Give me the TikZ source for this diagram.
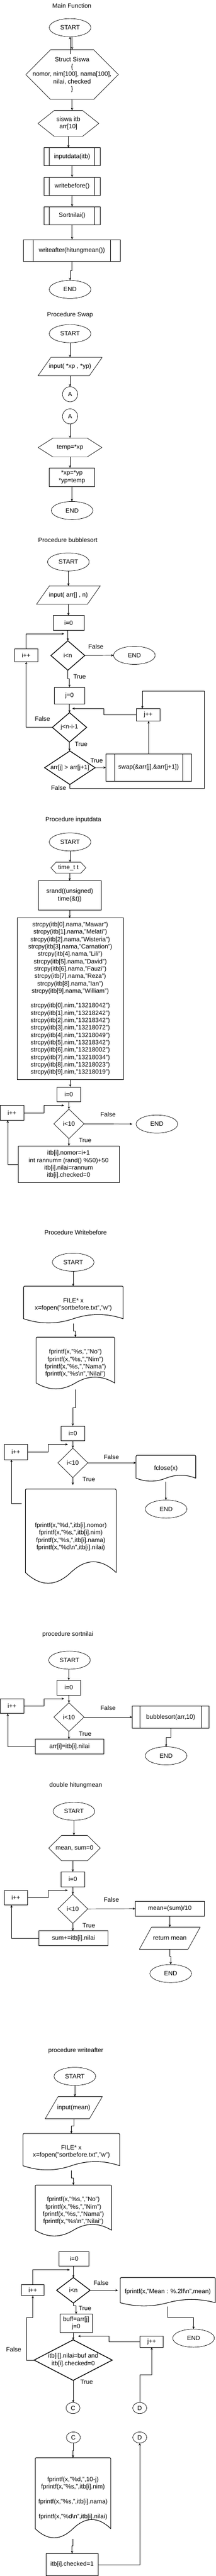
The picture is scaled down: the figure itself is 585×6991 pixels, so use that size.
\documentclass[tikz,border=0pt]{standalone}
\usepackage{fontspec}
\setmainfont{Liberation Sans}
\usetikzlibrary{arrows.meta,shapes.geometric,calc}

\begin{document}
\begin{tikzpicture}[x=1pt,y=-1pt,
  every node/.style={font=\fontsize{16.8}{20}\selectfont, outer sep=0pt, inner sep=2pt, align=center},
  flowLine/.style={draw=drawColor, line width=1pt, line join=round},
  flowArrow/.style={flowLine, -{Stealth[length=7pt,width=6pt]}},
  labelText/.style={inner sep=0pt},
  termNode/.style={ellipse, draw=drawColor, line width=1pt, minimum width=113, minimum height=49},
  procBox/.style={rectangle, draw=drawColor, line width=1pt},
  subProc/.style={procBox, path picture={\draw[draw=drawColor, line width=1pt]
      ([xshift=#1]path picture bounding box.north west) -- ([xshift=#1]path picture bounding box.south west)
      ([xshift=-#1]path picture bounding box.north east) -- ([xshift=-#1]path picture bounding box.south east);}},
  connCircle/.style={circle, draw=drawColor, line width=1pt, minimum size=41, inner sep=1pt},
  connOval/.style={ellipse, draw=drawColor, line width=1pt, minimum width=38, minimum height=30, inner sep=1pt},
  prepHex/.style={rectangle, append after command={\pgfextra{\draw[flowLine]
      (\tikzlastnode.west) -- ([xshift=#1]\tikzlastnode.north west) -- ([xshift=-#1]\tikzlastnode.north east)
      -- (\tikzlastnode.east) -- ([xshift=-#1]\tikzlastnode.south east) -- ([xshift=#1]\tikzlastnode.south west) -- cycle;}}},
  ioPara/.style={rectangle, append after command={\pgfextra{\draw[flowLine]
      ([xshift=#1]\tikzlastnode.north west) -- (\tikzlastnode.north east)
      -- ([xshift=-#1]\tikzlastnode.south east) -- (\tikzlastnode.south west) -- cycle;}}},
  decision/.style={rectangle, append after command={\pgfextra{\draw[draw=drawColor, line width=#1, line join=miter]
      (\tikzlastnode.west) -- (\tikzlastnode.north) -- (\tikzlastnode.east) -- (\tikzlastnode.south) -- cycle;}}},
  docShape/.style={rectangle, append after command={\pgfextra{\draw[draw=drawColor, line width=1.5pt, line join=round]
      let \p1=(\tikzlastnode.north west), \p2=(\tikzlastnode.south east),
      \n1={0.25*(\y1-\y2)}, \n2={\x2-\x1} in
      (\x1,{\y2+0.5*\n1}) [rounded corners=3pt]-- (\x1,\y1) -- (\x2,\y1) [sharp corners]-- (\x2,{\y2+0.5*\n1})
      .. controls ({\x2-\n2/6},{\y2+1.1*\n1}) and ({\x1+0.5*\n2+\n2/6},{\y2+1.1*\n1}) .. ({\x1+0.5*\n2},{\y2+0.5*\n1})
      .. controls ({\x1+0.5*\n2-\n2/6},{\y2-0.1*\n1}) and ({\x1+\n2/6},{\y2-0.1*\n1}) .. (\x1,{\y2+0.5*\n1}) -- cycle;}}}
]
\definecolor{drawColor}{RGB}{0,0,0}
\definecolor{fillColor}{RGB}{255,255,255}
\path[use as bounding box, fill=fillColor] (0,0) rectangle (585,6991);

\node[labelText] (titleMain) at (195,15) {Main Function};
\node[termNode] (startMain) at (190,75) {START};
\node[prepHex=67pt, minimum width=251, minimum height=135] (structSiswa) at (195.5,202.5) {Struct Siswa\\\{\\nomor, nim[100], nama[100],\\nilai, checked\\\}};
\coordinate (structIn) at (190,147);
\node[prepHex=44pt, minimum width=165, minimum height=70] (siswaItb) at (185.5,335) {siswa itb\\arr[10]};
\node[subProc=15pt, minimum width=153, minimum height=49] (inputCall) at (195.5,425.5) {inputdata(itb)};
\node[subProc=15pt, minimum width=153, minimum height=49] (beforeCall) at (195.5,505.5) {writebefore()};
\node[subProc=15pt, minimum width=153, minimum height=49] (sortCall) at (195.5,585.5) {Sortnilai()};
\node[subProc=26pt, minimum width=262, minimum height=60] (afterCall) at (195,680) {writeafter(hitungmean())};
\node[termNode] (endMain) at (190,785.5) {END};

\path[flowArrow] (structIn) -- (startMain.south);
\path[flowArrow] (startMain.south -| structSiswa.north) -- (structSiswa.north);
\path[flowArrow] (structSiswa.south) -- (structSiswa.south |- siswaItb.north);
\path[flowArrow] (siswaItb.south) -- (siswaItb.south |- inputCall.north);
\path[flowArrow] (inputCall.south) -- (beforeCall.north);
\path[flowArrow] (beforeCall.south) -- (sortCall.north);
\path[flowArrow] (sortCall.south) -- (sortCall.south |- afterCall.north);
\path[flowArrow] (afterCall.south) -- ++(0,25) -| (endMain.north);

\node[labelText] (titleSwap) at (190,855) {Procedure Swap};
\node[termNode] (startSwap) at (190,905.5) {START};
\node[ioPara=35pt, minimum width=174, minimum height=50] (inSwap) at (190,995) {input( *xp , *yp)};
\node[connCircle] (conA1) at (190,1070) {A};
\node[connCircle] (conA2) at (190,1130) {A};
\node[prepHex=40pt, minimum width=173, minimum height=51] (tempHex) at (190,1214.5) {temp=*xp};
\node[procBox, minimum width=124, minimum height=50] (swapBox) at (195,1295) {*xp=*yp\\{}*yp=temp};
\node[termNode] (endSwap) at (195.5,1385.5) {END};

\path[flowArrow] (startSwap.south) -- (inSwap.north);
\path[flowArrow] (inSwap.south) -- (conA1.north);
\path[flowArrow] (conA2.south) -- (tempHex.north);
\path[flowArrow] (tempHex.south) -- (tempHex.south |- swapBox.north);
\path[flowArrow] (swapBox.south) -- (swapBox.south |- endSwap.north);

\node[labelText] (titleBubble) at (184,1465) {Procedure bubblesort};
\node[termNode] (startBubble) at (185.5,1525) {START};
\node[ioPara=35pt, minimum width=173, minimum height=50] (inBubble) at (185.5,1615) {input( arr[] , n)};
\node[procBox, minimum width=84, minimum height=40] (initI1) at (186,1690.5) {i=0};
\node[decision=2pt, minimum width=92, minimum height=80] (condI1) at (184,1779) {i<n};
\node[termNode] (endBubble) at (364.5,1778.5) {END};
\node[procBox, minimum width=64, minimum height=35] (incI1) at (71,1778) {i++};
\node[procBox, minimum width=83, minimum height=46] (initJ1) at (188.5,1888) {j=0};
\node[decision=2pt, minimum width=93, minimum height=80] (condJ1) at (188.5,1974) {j<n-i-1};
\node[decision=2pt, minimum width=137, minimum height=91] (condSwap) at (189.5,2083.5) {arr[j] > arr[j+1]};
\node[subProc=24pt, minimum width=232, minimum height=74] (swapCall) at (403,2083) {swap(\&arr[j],\&arr[j+1])};
\node[procBox, minimum width=64, minimum height=34] (incJ1) at (402,1940) {j++};
\coordinate (backI1) at (174,1720);
\coordinate (backJ1) at (196,1923);
\coordinate (falseTurn1) at (554,1876);
\node[labelText] (lblF1) at (260,1755) {False};
\node[labelText] (lblT1) at (216,1836) {True};
\node[labelText] (lblF2) at (115,1951) {False};
\node[labelText] (lblT2) at (220,2020) {True};
\node[labelText] (lblT3) at (262,2064) {True};
\node[labelText] (lblF3) at (159,2138) {False};

\path[flowArrow] (startBubble.south) -- (inBubble.north);
\path[flowArrow] (inBubble.south) -- (inBubble.south |- initI1.north);
\path[flowArrow] (condI1.north |- initI1.south) -- (condI1.north);
\path[flowArrow] (incI1.north) |- (backI1);
\path[flowArrow] (condI1.east) -- (endBubble.west);
\path[flowArrow] (condI1.south) -- ++(0,23) -| (initJ1.north);
\path[flowArrow] (initJ1.south) -- (condJ1.north);
\path[flowArrow] (condJ1.west) -| (incI1.south);
\path[flowArrow] (condJ1.south) -- (condJ1.south |- condSwap.north);
\path[flowArrow] (condSwap.east) -- (swapCall.west);
\path[flowArrow] (swapCall.north) -- (swapCall.north |- incJ1.south);
\path[flowArrow] (incJ1.west) -- ++(-88,0) |- (backJ1);
\path[flowArrow] (condSwap.south) -- ++(0,11) -| (falseTurn1) -| ([xshift=-16pt]incJ1.north);

\node[labelText] (titleInput) at (199,2225) {Procedure inputdata};
\node[termNode] (startInput) at (190,2285) {START};
\node[prepHex=14pt, minimum width=95, minimum height=30] (timeHex) at (185.5,2355) {time\_t t};
\node[procBox, minimum width=170, minimum height=80] (srandBox) at (189,2430) {srand((unsigned)\\time(\&t))};
\node[procBox, minimum width=287, minimum height=439] (strcpyBox) at (190.5,2710.5) {strcpy(itb[0].nama,"Mawar")\\strcpy(itb[1].nama,"Melati")\\strcpy(itb[2].nama,"Wisteria")\\strcpy(itb[3].nama,"Carnation")\\strcpy(itb[4].nama,"Lili")\\strcpy(itb[5].nama,"David")\\strcpy(itb[6].nama,"Fauzi")\\strcpy(itb[7].nama,"Reza")\\strcpy(itb[8].nama,"Ian")\\strcpy(itb[9].nama,"William")\\[20pt]strcpy(itb[0].nim,"13218042")\\strcpy(itb[1].nim,"13218242")\\strcpy(itb[2].nim,"13218342")\\strcpy(itb[3].nim,"13218072")\\strcpy(itb[4].nim,"13218049")\\strcpy(itb[5].nim,"13218342")\\strcpy(itb[6].nim,"13218002")\\strcpy(itb[7].nim,"13218034")\\strcpy(itb[8].nim,"13218023")\\strcpy(itb[9].nim,"13218019")};
\node[procBox, minimum width=65, minimum height=40] (initI2) at (186.5,2970) {i=0};
\node[decision=1pt, minimum width=82, minimum height=80] (condI2) at (187,3050) {i<10};
\node[termNode] (endInput) at (425.5,3050.5) {END};
\node[procBox, minimum width=65, minimum height=40] (incI2) at (32.5,3020) {i++};
\node[procBox, minimum width=274, minimum height=100] (fillBox) at (186,3160) {itb[i].nomor=i+1\\int rannum= (rand() \%50)+50\\itb[i].nilai=rannum\\itb[i].checked=0};
\coordinate (backI2) at (174,3000);
\node[labelText] (lblF4) at (293,3025) {False};
\node[labelText] (lblT4) at (231,3095) {True};

\path[flowArrow] (startInput.south) -- (startInput.south |- timeHex.north);
\path[flowArrow] (timeHex.south -| srandBox.north) -- (srandBox.north);
\path[flowArrow] (srandBox.south) -- (srandBox.south |- strcpyBox.north);
\path[flowArrow] (strcpyBox.south) -- (strcpyBox.south |- initI2.north);
\path[flowArrow] (initI2.south) -- (condI2.north);
\path[flowArrow, shorten >=10pt] (condI2.east) -- (endInput.west);
\path[flowArrow] (condI2.south) -- (condI2.south |- fillBox.north);
\path[flowArrow] (fillBox.west) -| ([xshift=-11.5pt]incI2.south);
\path[flowArrow] (incI2.east) -- ++(54,0) |- (backI2);

\node[labelText] (titleBefore) at (205,3345) {Procedure Writebefore};
\node[termNode] (startBefore) at (198.5,3425.5) {START};
\node[docShape, minimum width=270, minimum height=101] (openBefore) at (199,3541) {FILE* x\\x=fopen("sortbefore.txt","w")};
\node[docShape, minimum width=213, minimum height=142] (headBefore) at (204.5,3700) {fprintf(x,"\%s,","No")\\fprintf(x,"\%s,","Nim")\\fprintf(x,"\%s,","Nama")\\fprintf(x,"\%s\textbackslash n","Nilai")};
\node[procBox, minimum width=65, minimum height=40] (initI3) at (197.5,3890) {i=0};
\node[decision=1pt, minimum width=81, minimum height=80] (condI3) at (197.5,3970) {i<10};
\node[procBox, minimum width=64, minimum height=41] (incI3) at (43,3940.5) {i++};
\node[docShape, minimum width=162, minimum height=71] (closeBefore) at (450,3985) {fclose(x)};
\node[termNode] (endBefore) at (450.5,4095.5) {END};
\node[docShape, minimum width=246, minimum height=259] (rowBefore) at (192,4170.5) {fprintf(x,"\%d,",itb[i].nomor)\\fprintf(x,"\%s,",itb[i].nim)\\fprintf(x,"\%s,",itb[i].nama)\\fprintf(x,"\%d\textbackslash n",itb[i].nilai)};
\coordinate (backI3) at (184,3920);
\node[labelText] (lblF5) at (302,3955) {False};
\node[labelText] (lblT5) at (241,4015) {True};

\path[flowArrow] (startBefore.south) -- (startBefore.south |- openBefore.north);
\path[flowArrow] (openBefore.south) -- ++(0,20) -| (headBefore.north);
\path[flowArrow] (headBefore.south) -- ++(0,49) -| (initI3.north);
\path[flowArrow] (initI3.south) -- (condI3.north);
\path[flowArrow] (incI3.east) -- ++(55,0) |- (backI3);
\path[flowArrow] (condI3.east) -- (condI3.east -| closeBefore.west);
\path[flowArrow] (closeBefore.south) -- (closeBefore.south |- endBefore.north);
\path[flowArrow, shorten >=11pt] (condI3.south) -- (condI3.south |- rowBefore.north);
\path[flowArrow] ([xshift=-10pt,yshift=-39pt]rowBefore.north west) -| ([xshift=-12pt]incI3.south);

\node[labelText] (titleSort) at (184,4435) {procedure sortnilai};
\node[termNode] (startSort) at (188.5,4505.5) {START};
\node[procBox, minimum width=65, minimum height=40] (initI4) at (186.5,4580) {i=0};
\node[decision=1pt, minimum width=82, minimum height=78] (condI4) at (187,4660) {i<10};
\node[procBox, minimum width=65, minimum height=40] (incI4) at (32.5,4630) {i++};
\node[subProc=21pt, minimum width=208, minimum height=60] (bubbleCall) at (463,4660) {bubblesort(arr,10)};
\node[termNode] (endSort) at (450.5,4765) {END};
\node[procBox, minimum width=187, minimum height=40] (copyBox) at (188.5,4740) {arr[i]=itb[i].nilai};
\coordinate (backI4) at (174,4610);
\node[labelText] (lblF6) at (293,4635) {False};
\node[labelText] (lblT6) at (231,4705) {True};

\path[flowArrow] (initI4.north |- startSort.south) -- (initI4.north);
\path[flowArrow] (initI4.south) -- (condI4.north);
\path[flowArrow] (incI4.east) -- ++(54,0) |- (backI4);
\path[flowArrow] (condI4.east) -- (bubbleCall.west);
\path[flowArrow] (bubbleCall.south) -- ++(0,25) -| (endSort.north);
\path[flowArrow] (condI4.south) -- (condI4.south |- copyBox.north);
\path[flowArrow] (copyBox.west) -| ([xshift=-11.5pt]incI4.south);

\node[labelText] (titleMean) at (205.5,4845) {double hitungmean};
\node[termNode] (startMean) at (200.5,4915.5) {START};
\node[prepHex=35pt, minimum width=140, minimum height=69] (meanHex) at (202,5015.5) {mean, sum=0};
\node[procBox, minimum width=65, minimum height=40] (initI5) at (197.5,5100) {i=0};
\node[decision=1pt, minimum width=81, minimum height=79] (condI5) at (197.5,5180.5) {i<10};
\node[procBox, minimum width=64, minimum height=40] (incI5) at (43,5150) {i++};
\node[procBox, minimum width=187, minimum height=40] (meanBox) at (460.5,5180) {mean=(sum)/10};
\node[ioPara=33pt, minimum width=165, minimum height=60] (retMean) at (460.5,5260) {return mean};
\node[termNode] (endMean) at (463,5356) {END};
\node[procBox, minimum width=187, minimum height=40] (sumBox) at (199.5,5260) {sum+=itb[i].nilai};
\coordinate (backI5) at (184,5130);
\node[labelText] (lblF7) at (302,5155) {False};
\node[labelText] (lblT7) at (241,5225) {True};

\path[flowArrow] (startMean.south) -- (startMean.south |- meanHex.north);
\path[flowArrow] (initI5.north |- meanHex.south) -- (initI5.north);
\path[flowArrow] (initI5.south) -- (condI5.north);
\path[flowArrow] (incI5.east) -- ++(55,0) |- (backI5);
\path[flowArrow] (condI5.east) -- (meanBox.west);
\path[flowArrow] (meanBox.south) -- (retMean.north);
\path[flowArrow] (retMean.south) -- ++(0,20) -| (endMean.north);
\path[flowArrow] (condI5.south) -- (condI5.south |- sumBox.north);
\path[flowArrow] (sumBox.west) -| ([xshift=-12pt]incI5.south);

\node[labelText] (titleAfter) at (205.5,5565) {procedure writeafter};
\node[termNode] (startAfter) at (203,5635) {START};
\node[ioPara=35pt, minimum width=155, minimum height=60] (inAfter) at (200,5720) {input(mean)};
\node[docShape, minimum width=262, minimum height=100] (openAfter) at (193.5,5840) {FILE* x\\x=fopen("sortbefore.txt","w")};
\node[docShape, minimum width=207, minimum height=140] (headAfter) at (199,6000) {fprintf(x,"\%s,","No")\\fprintf(x,"\%s,","Nim")\\fprintf(x,"\%s,","Nama")\\fprintf(x,"\%s\textbackslash n","Nilai")};
\node[procBox, minimum width=81, minimum height=39] (initI6) at (201,6130) {i=0};
\node[decision=2pt, minimum width=91, minimum height=69] (condI6) at (199,6215.5) {i<n};
\node[procBox, minimum width=62, minimum height=30] (incI6) at (89,6215) {i++};
\node[docShape, minimum width=258, minimum height=78] (meanOut) at (455,6220) {fprintf(x,"Mean : \%.2lf\textbackslash n",mean)};
\node[termNode] (endAfter) at (525,6345.5) {END};
\node[procBox, minimum width=88, minimum height=50] (buffBox) at (206.5,6305) {buff=arr[j]\\j=0};
\node[decision=2pt, minimum width=212, minimum height=110] (condCheck) at (198.5,6405) {itb[i]].nilai=buf and\\itb[i].checked=0};
\node[procBox, minimum width=63, minimum height=30] (incJ2) at (411.5,6355) {j++};
\node[connOval] (conC1) at (198,6535) {C};
\node[connOval] (conD1) at (379,6535) {D};
\node[connOval] (conC2) at (199,6615) {C};
\node[connOval] (conD2) at (379,6615) {D};
\node[docShape, minimum width=205, minimum height=220] (rowAfter) at (198,6780) {fprintf(x,"\%d,",10-j)\\fprintf(x,"\%s,",itb[i].nim)\\[20pt]fprintf(x,"\%s,",itb[i].nama)\\[20pt]fprintf(x,"\%d\textbackslash n",itb[i].nilai)};
\node[procBox, minimum width=141, minimum height=60] (markBox) at (195.5,6960) {itb[i].checked=1};
\coordinate (backI6) at (189.5,6160);
\coordinate (backJ2) at (211.5,6340);
\coordinate (falseTurn2) at (72,6290);
\node[labelText] (lblF8) at (274,6195) {False};
\node[labelText] (lblT8) at (230.5,6265) {True};
\node[labelText] (lblF9) at (37,6376) {False};
\node[labelText] (lblT9) at (235,6465) {True};

\path[flowArrow] (startAfter.south) -- (startAfter.south |- inAfter.north);
\path[flowArrow] (inAfter.south) -- ++(0,20) -| (openAfter.north);
\path[flowArrow] (openAfter.south) -- ++(0,20) -| (headAfter.north);
\path[flowArrow] (condI6.north |- initI6.south) -- (condI6.north);
\path[flowArrow] (incI6.north) |- (backI6);
\path[flowArrow, shorten >=6pt] (condI6.east) -- (condI6.east -| meanOut.west);
\path[flowArrow] (meanOut.south) -- ++(0,30) -| (endAfter.north);
\path[flowArrow] (condI6.south) -- ++(0,8) -| (buffBox.north);
\path[flowArrow] (condCheck.north |- buffBox.south) -- (condCheck.north);
\path[flowArrow] (incJ2.west) -- ++(-84,0) |- (backJ2);
\path[flowArrow] (condCheck.west) -| (falseTurn2) -| (incI6.south);
\path[flowArrow] (condCheck.south) -- (condCheck.south |- conC1.north);
\path[flowArrow] (conD1.north) -- ++(0,-75) -| (incJ2.south);
\path[flowArrow] (conC2.south) -- ++(0,20) -| (rowAfter.north);
\path[flowArrow] (rowAfter.south) -- ++(0,19) -| (markBox.north);
\path[flowArrow] (markBox.east) -| (conD2.south);
\end{tikzpicture}
\end{document}
